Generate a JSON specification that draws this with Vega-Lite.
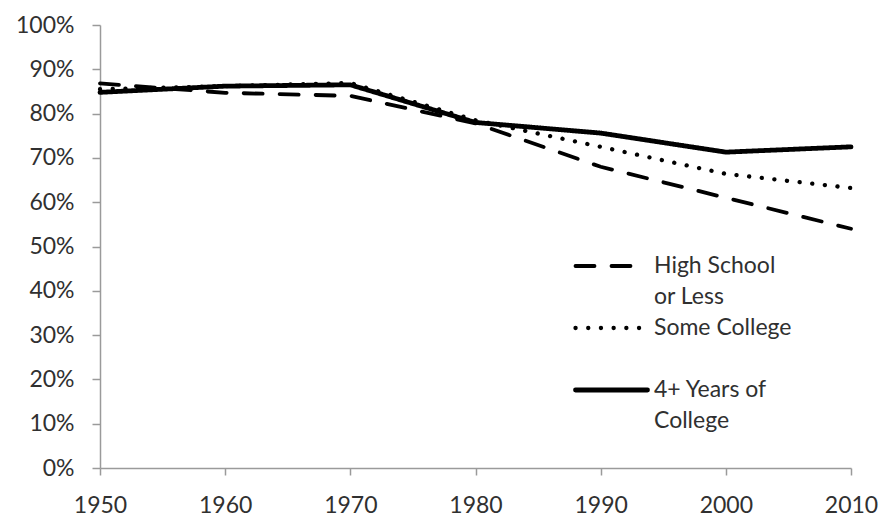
{
  "$schema": "https://vega.github.io/schema/vega-lite/v6.json",
  "width": 751,
  "height": 443,
  "autosize": {"type": "none"},
  "padding": {"left": 100, "top": 25, "right": 40, "bottom": 50},
  "background": "white",
  "config": {
    "view": {"stroke": null},
    "font": "Lato",
    "axis": {"grid": false, "domainColor": "#9a9a9a", "tickColor": "#9a9a9a", "labelColor": "#303030", "labelFont": "Lato", "labelFontSize": 23, "domainWidth": 1.5, "tickWidth": 1.5}
  },
  "data": {"values": [
    {"year": 1950, "group": "High School or Less", "share": 0.868},
    {"year": 1960, "group": "High School or Less", "share": 0.847},
    {"year": 1970, "group": "High School or Less", "share": 0.840},
    {"year": 1980, "group": "High School or Less", "share": 0.778},
    {"year": 1990, "group": "High School or Less", "share": 0.680},
    {"year": 2000, "group": "High School or Less", "share": 0.610},
    {"year": 2010, "group": "High School or Less", "share": 0.540},
    {"year": 1950, "group": "Some College", "share": 0.855},
    {"year": 1960, "group": "Some College", "share": 0.862},
    {"year": 1970, "group": "Some College", "share": 0.869},
    {"year": 1980, "group": "Some College", "share": 0.785},
    {"year": 1990, "group": "Some College", "share": 0.725},
    {"year": 2000, "group": "Some College", "share": 0.664},
    {"year": 2010, "group": "Some College", "share": 0.632},
    {"year": 1950, "group": "4+ Years of College", "share": 0.848},
    {"year": 1960, "group": "4+ Years of College", "share": 0.862},
    {"year": 1970, "group": "4+ Years of College", "share": 0.865},
    {"year": 1980, "group": "4+ Years of College", "share": 0.780},
    {"year": 1990, "group": "4+ Years of College", "share": 0.756},
    {"year": 2000, "group": "4+ Years of College", "share": 0.713},
    {"year": 2010, "group": "4+ Years of College", "share": 0.725}
  ]},
  "mark": {"type": "line", "color": "black", "strokeCap": "round"},
  "encoding": {
    "x": {"field": "year", "type": "quantitative", "scale": {"domain": [1950, 2010], "nice": false, "zero": false},
      "axis": {"title": null, "values": [1950, 1960, 1970, 1980, 1990, 2000, 2010], "format": "d", "tickSize": 7, "labelPadding": 19, "labelFlush": false}},
    "y": {"field": "share", "type": "quantitative", "scale": {"domain": [0, 1], "nice": false},
      "axis": {"title": null, "values": [0, 0.1, 0.2, 0.3, 0.4, 0.5, 0.6, 0.7, 0.8, 0.9, 1], "format": ".0%", "tickSize": 8, "labelPadding": 18}},
    "strokeWidth": {"field": "group", "type": "nominal",
      "scale": {"domain": ["High School or Less", "Some College", "4+ Years of College"], "range": [3.8, 4.8, 3.4]},
      "legend": null},
    "strokeDash": {"field": "group", "type": "nominal",
      "scale": {"domain": ["High School or Less", "Some College", "4+ Years of College"], "range": [[19, 17], [0.1, 12.6], [1, 0]]},
      "legend": {"title": null, "orient": "none", "legendX": 473, "legendY": 226, "symbolType": "M-1,0L1,0", "symbolSize": 5184, "symbolStrokeWidth": 4, "symbolStrokeColor": "black", "symbolFillColor": "transparent", "labelFont": "Lato", "labelFontSize": 23, "labelColor": "#303030", "labelLimit": 300, "labelOffset": 4, "rowPadding": 4,
        "labelExpr": "datum.value == 'High School or Less' ? ['High School', 'or Less'] : datum.value == 'Some College' ? ['Some College', ''] : ['4+ Years of', 'College']",
        "encode": {"symbols": {"update": {"strokeCap": {"value": "round"}, "y": {"value": 15}, "strokeWidth": {"signal": "datum.value == 'Some College' ? 5 : 4"}}}, "labels": {"update": {"lineHeight": {"value": 31}, "y": {"value": 15}}}}}
    },
    "detail": {"field": "group"}
  }
}
